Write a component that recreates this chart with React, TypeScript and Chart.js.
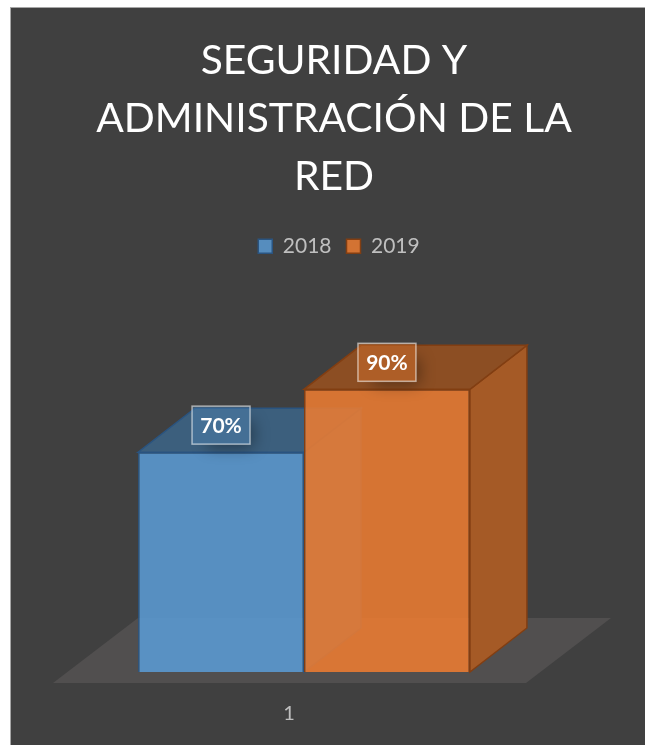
import React, { useEffect, useRef } from "react";
import { Chart, registerables } from "chart.js";

Chart.register(...registerables);

const categories = ["1"];
const seriesNames = ["2018", "2019"];
const values2018 = [0.7];
const values2019 = [0.9];
const titleLines = ["SEGURIDAD Y", "ADMINISTRACIÓN DE LA", "RED"];

const FONT = "Lato, Carlito, 'Open Sans', sans-serif";
const DX = 57;
const DY = -44;

type Look = { front: string; edge: string; top: string; side: string; back: string; tag: string };
const looks: Look[] = [
  { front: "rgba(91,155,213,0.85)", edge: "rgb(42,84,128)", top: "rgb(60,95,125)", side: "rgb(58,98,135)", back: "rgba(91,155,213,0.12)", tag: "rgba(91,155,213,0.28)" },
  { front: "rgba(237,125,49,0.85)", edge: "rgb(130,62,18)", top: "rgb(140,78,35)", side: "rgb(165,90,38)", back: "rgba(237,125,49,0.12)", tag: "rgba(237,125,49,0.35)" },
];

function poly(ctx: CanvasRenderingContext2D, pts: number[][], fill: string, stroke?: string) {
  ctx.beginPath();
  pts.forEach(([x, y], i) => (i ? ctx.lineTo(x, y) : ctx.moveTo(x, y)));
  ctx.closePath();
  ctx.fillStyle = fill;
  ctx.fill();
  if (stroke) {
    ctx.strokeStyle = stroke;
    ctx.lineWidth = 1.5;
    ctx.stroke();
  }
}

const panelPlugin = {
  id: "panel",
  beforeDraw(chart: any) {
    const { ctx, width, height } = chart;
    ctx.save();
    ctx.fillStyle = "#ffffff";
    ctx.fillRect(0, 0, width, height);
    ctx.fillStyle = "#a6a6a6";
    ctx.fillRect(10, 7, width - 10, height - 7);
    ctx.fillStyle = "#404040";
    ctx.fillRect(11, 8, width - 11, height - 8);
    ctx.restore();
  },
  afterLayout(chart: any) {
    chart.legend.left += 5;
    chart.legend.right += 5;
  },
};

const solidPlugin = {
  id: "solid",
  beforeDatasetsDraw(chart: any) {
    const { ctx, chartArea: a } = chart;
    ctx.save();
    poly(
      ctx,
      [
        [a.left - 15, a.bottom + 11],
        [a.right - 14, a.bottom + 11],
        [a.right + 71, a.bottom - 54],
        [a.left + 70, a.bottom - 54],
      ],
      "rgb(81,79,79)"
    );
    chart.data.datasets.forEach((_: any, i: number) => {
      const look = looks[i];
      chart.getDatasetMeta(i).data.forEach((bar: any) => {
        const l = bar.x - bar.width / 2;
        const r = bar.x + bar.width / 2;
        const t = bar.y;
        const b = bar.base;
        poly(ctx, [[l + DX, t + DY], [r + DX, t + DY], [r + DX, b + DY], [l + DX, b + DY]], look.back);
        poly(ctx, [[l, t], [l + DX, t + DY], [l + DX, b + DY], [l, b]], look.back);
        poly(ctx, [[l, b], [r, b], [r + DX, b + DY], [l + DX, b + DY]], look.back);
        poly(ctx, [[r, t], [r + DX, t + DY], [r + DX, b + DY], [r, b]], look.side, look.edge);
        poly(ctx, [[l, t], [r, t], [r + DX, t + DY], [l + DX, t + DY]], look.top, look.edge);
      });
    });
    ctx.restore();
  },
  afterDatasetsDraw(chart: any) {
    const { ctx } = chart;
    chart.data.datasets.forEach((ds: any, i: number) => {
      chart.getDatasetMeta(i).data.forEach((bar: any, j: number) => {
        const w = 58;
        const h = 38;
        const x = bar.x - w / 2;
        const y = bar.y - 46;
        ctx.save();
        ctx.beginPath();
        ctx.rect(0, 0, chart.width, chart.height);
        ctx.rect(x, y, w, h);
        ctx.clip("evenodd");
        ctx.shadowColor = "rgba(0,0,0,0.4)";
        ctx.shadowBlur = 16;
        ctx.shadowOffsetX = 9;
        ctx.shadowOffsetY = 9;
        ctx.fillStyle = "#000";
        ctx.fillRect(x + 6, y + 6, w - 12, h - 12);
        ctx.restore();
        ctx.save();
        ctx.fillStyle = looks[i].tag;
        ctx.fillRect(x, y, w, h);
        ctx.strokeStyle = "rgba(255,255,255,0.55)";
        ctx.lineWidth = 1.5;
        ctx.strokeRect(x, y, w, h);
        ctx.fillStyle = "#ffffff";
        ctx.font = `bold 21px ${FONT}`;
        ctx.textAlign = "center";
        ctx.textBaseline = "middle";
        ctx.fillText(`${Math.round(ds.data[j] * 100)}%`, bar.x, y + h / 2 + 1);
        ctx.restore();
      });
    });
  },
};

export default function App() {
  const ref = useRef<HTMLCanvasElement>(null);
  useEffect(() => {
    document.body.style.margin = "0";
    const chart = new Chart(ref.current!, {
      type: "bar",
      data: {
        labels: categories,
        datasets: [
          { label: seriesNames[0], data: values2018, backgroundColor: looks[0].front, borderColor: looks[0].edge, borderWidth: 1.5 },
          { label: seriesNames[1], data: values2019, backgroundColor: looks[1].front, borderColor: looks[1].edge, borderWidth: 1.5 },
        ],
      },
      options: {
        animation: false,
        responsive: false,
        layout: { padding: { left: 68, right: 45, top: 0, bottom: 0 } },
        datasets: { bar: { categoryPercentage: 0.703, barPercentage: 1 } },
        plugins: {
          tooltip: { enabled: false },
          title: {
            display: true,
            text: titleLines,
            color: "#ffffff",
            font: { family: FONT, size: 40.8, weight: "normal", lineHeight: 1.42 },
            padding: { top: 32, bottom: 15 },
          },
          legend: {
            display: true,
            position: "top",
            labels: {
              boxWidth: 14,
              boxHeight: 14,
              color: "#bfbfbf",
              font: { family: FONT, size: 21 },
              padding: 15,
            },
          },
        },
        scales: {
          x: {
            grid: { display: false },
            border: { display: false },
            ticks: { color: "#bfbfbf", font: { family: FONT, size: 20 }, labelOffset: -15, padding: 22 },
            afterFit: (s: any) => { s.height = 73; },
          },
          y: {
            position: "right",
            min: 0,
            max: 1.29,
            grid: { display: false },
            border: { display: false },
            ticks: { display: false },
            afterFit: (s: any) => { s.width = 60; },
          },
        },
      } as any,
      plugins: [panelPlugin, solidPlugin],
    });
    return () => chart.destroy();
  }, []);
  return <canvas ref={ref} width={645} height={745} style={{ display: "block" }} />;
}
